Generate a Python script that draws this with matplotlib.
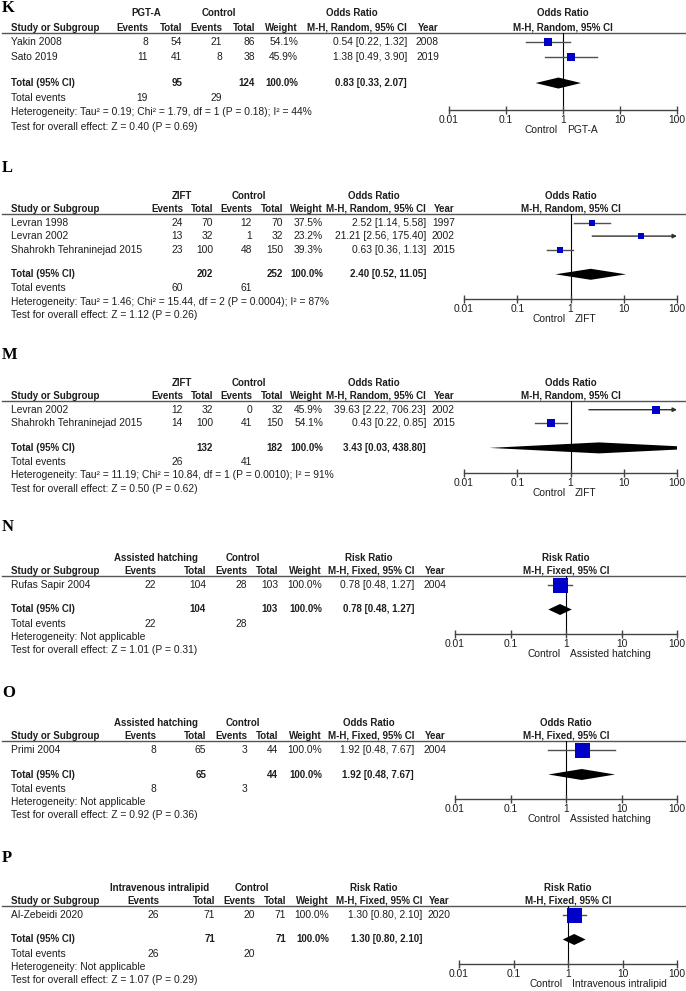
import numpy as np
import matplotlib
matplotlib.use("Agg")
import matplotlib.pyplot as plt
from matplotlib.ticker import NullLocator

plt.rcParams['font.family'] = ['Liberation Sans', 'DejaVu Sans']

# K - PGT-A
k_studies = ["Yakin 2008", "Sato 2019"]
k_exp_events = [8, 11]
k_exp_total = [54, 41]
k_ctl_events = [21, 8]
k_ctl_total = [86, 38]
k_weight = [54.1, 45.9]
k_est = [0.54, 1.38]
k_lo = [0.22, 0.49]
k_hi = [1.32, 3.90]
k_year = [2008, 2019]
k_pooled = [0.83, 0.33, 2.07]
k_het = "Heterogeneity: Tau² = 0.19; Chi² = 1.79, df = 1 (P = 0.18); I² = 44%"
k_test = "Test for overall effect: Z = 0.40 (P = 0.69)"

# L - ZIFT
l_studies = ["Levran 1998", "Levran 2002", "Shahrokh Tehraninejad 2015"]
l_exp_events = [24, 13, 23]
l_exp_total = [70, 32, 100]
l_ctl_events = [12, 1, 48]
l_ctl_total = [70, 32, 150]
l_weight = [37.5, 23.2, 39.3]
l_est = [2.52, 21.21, 0.63]
l_lo = [1.14, 2.56, 0.36]
l_hi = [5.58, 175.40, 1.13]
l_year = [1997, 2002, 2015]
l_pooled = [2.40, 0.52, 11.05]
l_het = "Heterogeneity: Tau² = 1.46; Chi² = 15.44, df = 2 (P = 0.0004); I² = 87%"
l_test = "Test for overall effect: Z = 1.12 (P = 0.26)"

# M - ZIFT
m_studies = ["Levran 2002", "Shahrokh Tehraninejad 2015"]
m_exp_events = [12, 14]
m_exp_total = [32, 100]
m_ctl_events = [0, 41]
m_ctl_total = [32, 150]
m_weight = [45.9, 54.1]
m_est = [39.63, 0.43]
m_lo = [2.22, 0.22]
m_hi = [706.23, 0.85]
m_year = [2002, 2015]
m_pooled = [3.43, 0.03, 438.80]
m_het = "Heterogeneity: Tau² = 11.19; Chi² = 10.84, df = 1 (P = 0.0010); I² = 91%"
m_test = "Test for overall effect: Z = 0.50 (P = 0.62)"

# N - Assisted hatching (risk ratio)
n_studies = ["Rufas Sapir 2004"]
n_exp_events = [22]
n_exp_total = [104]
n_ctl_events = [28]
n_ctl_total = [103]
n_weight = [100.0]
n_est = [0.78]
n_lo = [0.48]
n_hi = [1.27]
n_year = [2004]
n_pooled = [0.78, 0.48, 1.27]
n_het = "Heterogeneity: Not applicable"
n_test = "Test for overall effect: Z = 1.01 (P = 0.31)"

# O - Assisted hatching (odds ratio)
o_studies = ["Primi 2004"]
o_exp_events = [8]
o_exp_total = [65]
o_ctl_events = [3]
o_ctl_total = [44]
o_weight = [100.0]
o_est = [1.92]
o_lo = [0.48]
o_hi = [7.67]
o_year = [2004]
o_pooled = [1.92, 0.48, 7.67]
o_het = "Heterogeneity: Not applicable"
o_test = "Test for overall effect: Z = 0.92 (P = 0.36)"

# P - Intravenous intralipid
p_studies = ["Al-Zebeidi 2020"]
p_exp_events = [26]
p_exp_total = [71]
p_ctl_events = [20]
p_ctl_total = [71]
p_weight = [100.0]
p_est = [1.30]
p_lo = [0.80]
p_hi = [2.10]
p_year = [2020]
p_pooled = [1.30, 0.80, 2.10]
p_het = "Heterogeneity: Not applicable"
p_test = "Test for overall effect: Z = 1.07 (P = 0.29)"

panels = [
    dict(tag="K", exp="PGT-A", measure="Odds Ratio", method="M-H, Random, 95% CI", random=True,
         studies=k_studies, ee=k_exp_events, et=k_exp_total, ce=k_ctl_events, ct=k_ctl_total,
         w=k_weight, est=k_est, lo=k_lo, hi=k_hi, year=k_year, pooled=k_pooled, het=k_het, test=k_test),
    dict(tag="L", exp="ZIFT", measure="Odds Ratio", method="M-H, Random, 95% CI", random=True,
         studies=l_studies, ee=l_exp_events, et=l_exp_total, ce=l_ctl_events, ct=l_ctl_total,
         w=l_weight, est=l_est, lo=l_lo, hi=l_hi, year=l_year, pooled=l_pooled, het=l_het, test=l_test),
    dict(tag="M", exp="ZIFT", measure="Odds Ratio", method="M-H, Random, 95% CI", random=True,
         studies=m_studies, ee=m_exp_events, et=m_exp_total, ce=m_ctl_events, ct=m_ctl_total,
         w=m_weight, est=m_est, lo=m_lo, hi=m_hi, year=m_year, pooled=m_pooled, het=m_het, test=m_test),
    dict(tag="N", exp="Assisted hatching", measure="Risk Ratio", method="M-H, Fixed, 95% CI", random=False,
         studies=n_studies, ee=n_exp_events, et=n_exp_total, ce=n_ctl_events, ct=n_ctl_total,
         w=n_weight, est=n_est, lo=n_lo, hi=n_hi, year=n_year, pooled=n_pooled, het=n_het, test=n_test),
    dict(tag="O", exp="Assisted hatching", measure="Odds Ratio", method="M-H, Fixed, 95% CI", random=False,
         studies=o_studies, ee=o_exp_events, et=o_exp_total, ce=o_ctl_events, ct=o_ctl_total,
         w=o_weight, est=o_est, lo=o_lo, hi=o_hi, year=o_year, pooled=o_pooled, het=o_het, test=o_test),
    dict(tag="P", exp="Intravenous intralipid", measure="Risk Ratio", method="M-H, Fixed, 95% CI", random=False,
         studies=p_studies, ee=p_exp_events, et=p_exp_total, ce=p_ctl_events, ct=p_ctl_total,
         w=p_weight, est=p_est, lo=p_lo, hi=p_hi, year=p_year, pooled=p_pooled, het=p_het, test=p_test),
]

# pixel layout of each panel
cols_k = [148, 182, 222, 255, 298, 407, 439]
cols_l = [183, 213, 252, 283, 323, 426, 455]
cols_n = [156, 206, 247, 278, 322, 414, 446]
cols_p = [159, 215, 255, 286, 329, 422, 450]
layout = {
    "K": dict(letter_y=8, line_y=33, step=14.3, cols=cols_k, heads=[146, 219, 352], fx=(449, 677)),
    "L": dict(letter_y=168, line_y=214, step=13.4, cols=cols_l, heads=[182, 249, 374], fx=(464, 677)),
    "M": dict(letter_y=355, line_y=401, step=13.4, cols=cols_l, heads=[182, 249, 374], fx=(464, 677)),
    "N": dict(letter_y=527, line_y=576, step=13.4, cols=cols_n, heads=[156, 243, 369], fx=(455, 677)),
    "O": dict(letter_y=693, line_y=741, step=13.4, cols=cols_n, heads=[156, 243, 369], fx=(455, 677)),
    "P": dict(letter_y=858, line_y=906, step=13.4, cols=cols_p, heads=[160, 252, 374], fx=(459, 677)),
}

W, H = 686, 991
TXT = '#1e1e1e'
FS = 7.4      # plain text
FSB = 7.0     # bold text
SQ = '#0000c8'

fig = plt.figure(figsize=(W / 100, H / 100), dpi=100)
ax0 = fig.add_axes([0, 0, 1, 1])
ax0.set_xlim(0, W)
ax0.set_ylim(H, 0)
ax0.axis('off')


def t(x, y, s, ha='left', bold=False, **kw):
    ax0.text(x, y, s, ha=ha, va='center', fontsize=FSB if bold else FS, color=TXT,
             fontweight='bold' if bold else 'normal', **kw)


def ci_str(e, l, h):
    return f"{e:.2f} [{l:.2f}, {h:.2f}]"


for p in panels:
    lay = layout[p["tag"]]
    step = lay["step"]
    line_y = lay["line_y"]
    c = lay["cols"]
    h2 = line_y - 0.38 * step
    h1 = h2 - step
    n = len(p["studies"])
    rows = [line_y + 0.65 * step + i * step for i in range(n)]
    tot_y = rows[-1] + 1.85 * step
    te_y = tot_y + 1.05 * step
    het_y = te_y + step
    test_y = het_y + step
    axis_y = het_y - 2.5

    # panel letter
    ax0.text(2, lay["letter_y"], p["tag"], ha='left', va='center', fontsize=12,
             fontweight='bold', family='Liberation Serif', color='black')

    # headers
    t(lay["heads"][0], h1, p["exp"], ha='center', bold=True)
    t(lay["heads"][1], h1, "Control", ha='center', bold=True)
    t(lay["heads"][2], h1, p["measure"], ha='center', bold=True)
    t(11, h2, "Study or Subgroup", bold=True)
    for x, s in zip(c, ["Events", "Total", "Events", "Total", "Weight", p["method"], "Year"]):
        t(x, h2, s, ha='right', bold=True)
    ax0.plot([2, W], [line_y, line_y], color='#555555', lw=1)

    # study rows
    for i in range(n):
        y = rows[i]
        t(11, y, p["studies"][i])
        vals = [p["ee"][i], p["et"][i], p["ce"][i], p["ct"][i], f"{p['w'][i]:.1f}%",
                ci_str(p["est"][i], p["lo"][i], p["hi"][i]), p["year"][i]]
        for x, s in zip(c, vals):
            t(x, y, str(s), ha='right')

    # total rows
    t(11, tot_y, "Total (95% CI)", bold=True)
    t(c[1], tot_y, str(sum(p["et"])), ha='right', bold=True)
    t(c[3], tot_y, str(sum(p["ct"])), ha='right', bold=True)
    t(c[4], tot_y, "100.0%", ha='right', bold=True)
    t(c[5], tot_y, ci_str(*p["pooled"]), ha='right', bold=True)
    t(11, te_y, "Total events")
    t(c[0], te_y, str(sum(p["ee"])), ha='right')
    t(c[2], te_y, str(sum(p["ce"])), ha='right')
    t(11, het_y, p["het"])
    t(11, test_y, p["test"])

    # forest plot
    x0, x1 = lay["fx"]
    xc = (x0 + x1) / 2
    t(xc, h1, p["measure"], ha='center', bold=True)
    t(xc, h2, p["method"], ha='center', bold=True)
    t(xc - 5, axis_y + 20, "Control", ha='right')
    t(xc + 4, axis_y + 20, p["exp"], ha='left')

    fa = fig.add_axes([x0 / W, 1 - axis_y / H, (x1 - x0) / W, (axis_y - line_y) / H])
    fa.set_xscale('log')
    fa.set_xlim(0.01, 100)
    fa.set_ylim(axis_y, line_y)
    fa.patch.set_visible(False)
    for s in ['top', 'left', 'right']:
        fa.spines[s].set_visible(False)
    fa.spines['bottom'].set_color('#444444')
    fa.spines['bottom'].set_linewidth(1)
    fa.set_yticks([])
    fa.set_xticks([0.01, 0.1, 1, 10, 100])
    fa.set_xticklabels(['0.01', '0.1', '1', '10', '100'])
    fa.xaxis.set_minor_locator(NullLocator())
    fa.tick_params(axis='x', direction='inout', length=6, width=1, color='#444444',
                   labelsize=FS, labelcolor=TXT, pad=0.5)
    fa.axvline(1, color='black', lw=0.8, zorder=1)

    scale = 11 if p["random"] else 15
    for i in range(n):
        y = rows[i]
        lo, hi, e = p["lo"][i], p["hi"][i], p["est"][i]
        if hi > 100:
            fa.annotate('', xy=(100, y), xytext=(lo, y),
                        arrowprops=dict(arrowstyle='-|>', color='#303030', lw=1,
                                        mutation_scale=6, shrinkA=0, shrinkB=0),
                        annotation_clip=False)
        else:
            fa.plot([lo, hi], [y, y], color='#505050', lw=1, zorder=2)
        side = scale * np.sqrt(p["w"][i] / 100)
        fa.plot(e, y, marker='s', ms=side * 0.72, color=SQ, mec=SQ, mew=0, zorder=3)

    pe, pl, ph = p["pooled"]
    hh = 5.5
    fa.fill([pl, pe, ph, pe], [tot_y, tot_y - hh, tot_y, tot_y + hh], color='black', zorder=3, lw=0)

fig.savefig("out.png", dpi=100)
